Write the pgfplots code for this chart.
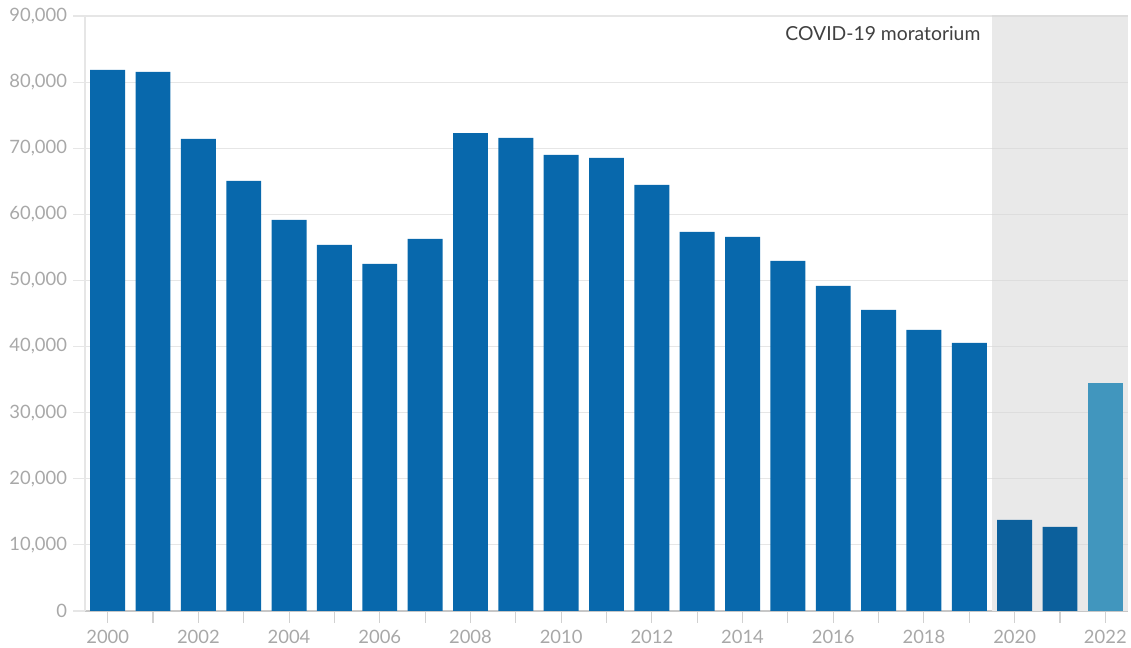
\documentclass[border=0pt]{standalone}
\usepackage{pgfplots}
\pgfplotsset{compat=1.18}
\usepackage{fontspec}
\setmainfont{Lato}
\definecolor{barmain}{HTML}{0868AC}
\definecolor{bardark}{HTML}{0C609C}
\definecolor{barlight}{HTML}{4196BE}
\definecolor{ticktext}{HTML}{A8A8A8}
\definecolor{gridc}{HTML}{E6E6E6}
\definecolor{gridd}{HTML}{DDDDDD}
\definecolor{shadec}{HTML}{E9E9E9}
\begin{document}
\begin{tikzpicture}[x=1pt,y=1pt]
\useasboundingbox (-63.75,-27.75) rectangle (784.5,458.25);
\begin{axis}[
  at={(0,0)}, anchor=origin,
  scale only axis,
  width=782.25pt, height=446.25pt,
  xmin=1999.5, xmax=2022.5,
  ymin=0, ymax=90000,
  axis x line*=bottom, axis y line*=left,
  axis line style={draw=gridc, line width=0.8pt},
  x axis line style={draw=black!22},
  xtick={2000,2002,...,2022},
  minor xtick={2001,2003,...,2021},
  /pgf/number format/assume math mode=true,
  xticklabel style={/pgf/number format/1000 sep={}, yshift=-2pt},
  ytick={0,10000,...,90000},
  yticklabel style={/pgf/number format/1000 sep={,}, xshift=-1pt},
  scaled y ticks=false,
  ymajorgrids, grid style={draw=gridc, line width=0.8pt},
  tick align=outside,
  major tick length=9pt, minor tick length=9pt,
  tick style={draw=black!18, line width=0.8pt},
  minor tick style={draw=black!18, line width=0.8pt},
  ytick style={draw=gridc},
  every tick label/.append style={font=\fontsize{13.8}{16}\selectfont, text=ticktext},
  clip=false,
]
\fill[shadec] (axis cs:2019.5,0) rectangle (axis cs:2022.5,90000);
\draw[gridd, line width=0.8pt]
  (axis cs:2019.5,10000) -- (axis cs:2022.5,10000)
  (axis cs:2019.5,20000) -- (axis cs:2022.5,20000)
  (axis cs:2019.5,30000) -- (axis cs:2022.5,30000)
  (axis cs:2019.5,40000) -- (axis cs:2022.5,40000)
  (axis cs:2019.5,50000) -- (axis cs:2022.5,50000)
  (axis cs:2019.5,60000) -- (axis cs:2022.5,60000)
  (axis cs:2019.5,70000) -- (axis cs:2022.5,70000)
  (axis cs:2019.5,80000) -- (axis cs:2022.5,80000)
  (axis cs:2019.5,90000) -- (axis cs:2022.5,90000);
\addplot[ybar, bar shift=0pt, bar width=0.77, fill=barmain, draw=none] coordinates {
(2000,81850) (2001,81540) (2002,71400) (2003,65050) (2004,59150) (2005,55370)
(2006,52500) (2007,56280) (2008,72300) (2009,71560) (2010,68990) (2011,68530)
(2012,64450) (2013,57340) (2014,56580) (2015,52950) (2016,49170) (2017,45540)
(2018,42510) (2019,40540)
};
\addplot[ybar, bar shift=0pt, bar width=0.77, fill=bardark, draw=none] coordinates {
(2020,13770) (2021,12710)
};
\addplot[ybar, bar shift=0pt, bar width=0.77, fill=barlight, draw=none] coordinates {
(2022,34490)
};
\node[anchor=east, font=\fontsize{14.5}{16}\selectfont, text=black!75, inner sep=0pt] at (axis cs:2019.25,87300) {COVID-19 moratorium};
\end{axis}
\end{tikzpicture}
\end{document}
